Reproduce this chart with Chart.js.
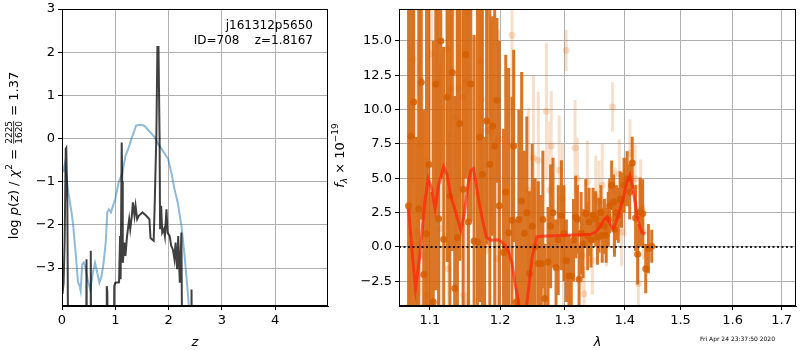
<!DOCTYPE html>
<html>
<head>
<meta charset="utf-8">
<script src="https://cdn.jsdelivr.net/npm/chart.js@4.4.0/dist/chart.umd.min.js"></script>
<style>
  body { margin: 0; background: #fff; }
  #wrap { position: relative; width: 800px; height: 350px; }
  canvas { position: absolute; top: 0; }
</style>
</head>
<body>
<div id="wrap">
  <canvas id="pz" width="330" height="350" style="left:0"></canvas>
  <canvas id="spec" width="470" height="350" style="left:330px"></canvas>
</div>
<script>
// ---- panel 1: p(z) ----
const zTicks = [0, 1, 2, 3, 4];
const lnpTicks = [-3, -2, -1, 0, 1, 2, 3];

// prior / smooth curve (blue)
const blueZ = [0.02, 0.05, 0.08, 0.12, 0.18, 0.21, 0.26, 0.30, 0.33, 0.35, 0.38, 0.41, 0.44, 0.48, 0.53, 0.58, 0.62, 0.66, 0.70, 0.74, 0.78, 0.82, 0.85, 0.88, 0.92, 0.96, 1.00, 1.06, 1.13, 1.19, 1.25, 1.30, 1.36, 1.39, 1.44, 1.50, 1.55, 1.60, 1.66, 1.74, 1.80, 1.89, 1.99, 2.05, 2.11, 2.17, 2.24, 2.30, 2.36, 2.40];
const blueLogp = [-0.78, -0.60, -0.86, -1.25, -1.72, -2.02, -2.71, -3.33, -3.41, -3.53, -2.91, -2.87, -2.99, -3.26, -3.50, -3.10, -2.88, -3.10, -3.34, -3.20, -2.88, -2.41, -1.71, -1.64, -1.71, -1.55, -1.40, -1.02, -0.82, -0.40, -0.22, -0.01, 0.19, 0.30, 0.31, 0.31, 0.29, 0.22, 0.14, 0.03, -0.12, -0.28, -0.47, -0.78, -1.17, -1.48, -2.02, -2.72, -3.57, -4.2];

// fit curve (dark)
const darkZ = [0.0, 0.01, 0.03, 0.05, 0.07, 0.08, 0.10, 0.12, 0.45, 0.46, 0.47, 0.53, 0.54, 0.55, 0.83, 0.84, 0.85, 0.87, 0.97, 0.98, 1.00, 1.07, 1.09, 1.10, 1.12, 1.13, 1.14, 1.17, 1.19, 1.22, 1.26, 1.28, 1.31, 1.33, 1.36, 1.38, 1.41, 1.44, 1.51, 1.58, 1.64, 1.66, 1.68, 1.72, 1.74, 1.77, 1.79, 1.81, 1.83, 1.84, 1.86, 1.88, 1.91, 1.93, 1.96, 1.98, 2.02, 2.05, 2.08, 2.11, 2.13, 2.16, 2.18, 2.21, 2.24, 2.26, 2.42, 2.43, 2.44];
const darkLogp = [-3.42, -3.6, -3.34, -2.37, -0.24, -0.22, -1.48, -6, -6, -2.8, -6, -6, -2.6, -6, -6, -3.42, -3.55, -6, -6, -3.42, -3.34, -3.33, -2.26, -3.26, -0.09, -1.0, -2.88, -2.41, -2.72, -2.26, -1.87, -2.1, -1.79, -1.48, -1.79, -1.56, -1.87, -1.79, -1.71, -1.79, -1.87, -2.3, -2.33, -2.37, -1.48, 0.07, 2.12, 2.12, 0.07, -2.1, -1.56, -2.18, -2.1, -2.26, -1.64, -2.18, -2.26, -2.49, -2.57, -2.8, -2.41, -3.03, -2.26, -3.34, -2.18, -6, -6, -3.5, -6];

// ---- panel 2: spectrum ----
const lamTicks = [1.1, 1.2, 1.3, 1.4, 1.5, 1.6, 1.7];
const fluxTicks = [-2.5, 0, 2.5, 5, 7.5, 10, 12.5, 15];

// grism spectrum, first orient (strong)
const waveA = [1.0714, 1.0746, 1.0782, 1.0816, 1.0850, 1.0884, 1.0918, 1.0955, 1.0986, 1.1021, 1.1047, 1.1081, 1.1119, 1.1150, 1.1190, 1.1239, 1.1276, 1.1310, 1.1343, 1.1382, 1.1414, 1.1462, 1.1500, 1.1539, 1.1572, 1.1619, 1.1667, 1.1700, 1.1739, 1.1772, 1.1800, 1.1847, 1.1890, 1.1919, 1.1953, 1.1986, 1.2050, 1.2083, 1.2126, 1.2177, 1.2202, 1.2242, 1.2280, 1.2323, 1.2364, 1.2402, 1.2444, 1.2485, 1.2530, 1.2580, 1.2626, 1.2651, 1.2682, 1.2732, 1.2773, 1.2811, 1.2859, 1.2894, 1.2944, 1.2985, 1.3025, 1.3066, 1.3104, 1.3140, 1.3176, 1.3203, 1.3231, 1.3264, 1.3296, 1.3341, 1.3371, 1.3395, 1.3428, 1.3461, 1.3506, 1.3535, 1.3560, 1.3593, 1.3615, 1.3651, 1.3681, 1.3717, 1.3742, 1.3775, 1.3807, 1.3824, 1.3857, 1.3889, 1.3922, 1.3944, 1.3988, 1.4041, 1.4086, 1.4130, 1.4189, 1.4225, 1.4268, 1.4314, 1.4368, 1.4416, 1.4475];
const fluxA = [3.0, 8.06, 10.56, -6, 2.79, 12, -2, 0.97, 6, -8, -4.0, 11.85, 2.06, 15, 0.56, 10.9, 3.71, 12.7, -3, 0.68, 9, 4.2, 14, 1.82, 11.87, 0.44, 0.36, 8, 5.27, -5, 9.18, 6.02, 8.81, 7.36, 10.68, 3, -0.41, 4, 1.04, 1.94, 7.36, -4.0, 2, 3.35, 1, 2.5, -1.94, 1.5, 0, -1.21, -1.21, 2, -3.76, -1.09, 1.5, 2.5, -1.5, 0.5, 2.31, 1.0, -1, -2.11, -2.11, 0.5, 2.18, 2.02, -2.35, 1, 0.24, 2.43, 0.8, 1.82, 0.5, 2.31, 2.06, 0.7, 1.58, 2.5, 0.85, 1.5, 0.85, 2, 3, 4.49, 3.28, 1.29, 2.5, 2.31, 3.5, 3.4, 4.5, 4.97, 4, 6.12, 2.11, -0.53, 2.55, 2.43, -1.58, -0.12, 0.05];
const errA = [20, 13, 16, 14, 16, 10, 12, 18, 14, 12, 19, 15, 18, 10, 14, 12, 16, 13, 14, 17, 10, 16, 9, 18, 10, 15, 17, 12, 14, 13, 9, 12, 8, 14, 6, 12, 9, 10, 12, 9, 7, 6, 8, 9.4, 6, 7, 6, 6, 5, 6, 5, 5, 4, 4, 4.5, 4, 3.5, 4, 4, 3.5, 3, 3, 2.5, 3, 3, 2.5, 2.5, 3, 2.5, 2.5, 2.5, 2.5, 2, 2, 2, 2, 2, 2, 2, 2, 2, 2, 2, 1.8, 2, 2, 2, 2, 2, 2, 2, 2, 2, 1.9, 2.4, 2.2, 2.5, 2.5, 1.8, 1.8, 1.2];

// second orient (faint)
const waveB = [1.0728, 1.0773, 1.0827, 1.0864, 1.0901, 1.0955, 1.1024, 1.1096, 1.1143, 1.1229, 1.1257, 1.1286, 1.1357, 1.1404, 1.1453, 1.1472, 1.1500, 1.1514, 1.1533, 1.1715, 1.1729, 1.1810, 1.1867, 1.1953, 1.1976, 1.2177, 1.2192, 1.2429, 1.2505, 1.2580, 1.2707, 1.2758, 1.2783, 1.2909, 1.2959, 1.2977, 1.3021, 1.3165, 1.3203, 1.3285, 1.3313, 1.3368, 1.3450, 1.3506, 1.3560, 1.3615, 1.3687, 1.3725, 1.3791, 1.3812, 1.3835, 1.3906, 1.3944, 1.4000, 1.4089, 1.4179, 1.4238, 1.4279, 1.4296, 1.4327];
const fluxB = [2.79, 13.71, 1.09, 7.41, -0.61, -3.52, 14.08, 12.02, 1.33, 14.4, -1.58, 11.53, 9.47, 11.58, 10.92, -3.52, 12.02, -4.0, 17.1, 13.52, 10.8, 8.5, 8.38, -0.85, 7.84, 15.42, 7.36, 4.13, 6.48, 6.31, 9.88, 4.13, 7.36, 5.58, 3.52, -0.97, 14.32, 7.21, 4.97, -0.61, -3.4, 4.73, -0.97, 3.64, 3.28, 4.49, 1.09, 2.31, 10.2, 2.06, 3.28, 5.34, 1.09, 3.28, 6.8, 4.97, -2.67, 4.37, 2.79, 1.09];
const errB = [12, 9, 14, 11, 13, 10, 8, 9, 12, 7, 10, 9, 10, 8, 9, 9, 8, 8, 6, 7, 8, 9, 8, 9, 8, 6, 7, 6, 6, 5, 5, 5, 4, 4, 4, 4, 1.5, 3.5, 3, 2.5, 2, 3, 2.5, 3, 3, 3, 2.5, 2.5, 1.8, 2.5, 2.5, 2.5, 2.5, 2.5, 2.5, 2.5, 1.8, 2, 2, 2];

// best-fit model (red)
const modelWave = [1.0714, 1.0773, 1.0806, 1.0864, 1.0932, 1.0977, 1.1024, 1.1071, 1.1119, 1.1190, 1.1239, 1.1286, 1.1357, 1.1429, 1.1476, 1.1524, 1.1572, 1.1610, 1.1643, 1.1690, 1.1747, 1.1796, 1.1857, 1.1976, 1.2050, 1.2126, 1.2177, 1.2227, 1.2277, 1.2329, 1.2389, 1.2429, 1.2480, 1.2556, 1.2632, 1.3038, 1.3423, 1.3506, 1.3588, 1.3654, 1.3697, 1.3753, 1.3807, 1.3889, 1.3972, 1.4029, 1.4089, 1.4136, 1.4179, 1.4238, 1.4296, 1.4357];
const modelFlux = [2.79, -1.09, -3.04, -0.61, 3.28, 4.97, 4.25, 2.79, 4.49, 5.83, 5.22, 3.76, 2.55, 1.21, 2.31, 4.25, 5.58, 5.70, 4.73, 3.28, 1.82, 0.73, 0.49, 0.53, 0.24, -0.36, -1.21, -2.79, -4.0, -6.5, -4.6, -3.04, -0.85, 0.73, 0.78, 0.85, 0.92, 1.09, 1.53, 2.06, 2.18, 1.62, 1.33, 2.31, 3.52, 4.61, 5.22, 4.37, 3.28, 1.82, 1.09, 0.97];

const lamMin = 1.0588, lamMax = 1.7304;

const FONT = "'DejaVu Sans', sans-serif";
const ORANGE = 'rgba(213,94,0,0.85)';
const ORANGE_LT = 'rgba(225,110,20,0.22)';

function minus(s) { return String(s).replace('-', '\u2212'); }

// error bars as little vertical segments split by nulls
function errSegments(w, f, e) {
  const pts = [];
  w.forEach((x, i) => {
    pts.push({ x: x, y: f[i] - e[i] }, { x: x, y: f[i] + e[i] }, { x: x, y: null });
  });
  return pts;
}
function xy(xs, ys) { return xs.map((x, i) => ({ x: x, y: ys[i] })); }

// draws a rotated label made of pieces (italic, sub/superscript, fraction)
function drawParts(ctx, parts, x, y) {
  let w = 0;
  parts.forEach(p => {
    ctx.font = p.font;
    p.w = p.frac ? Math.max(ctx.measureText(p.frac[0]).width, ctx.measureText(p.frac[1]).width) + 2
                 : ctx.measureText(p.t).width;
    w += p.w;
  });
  ctx.save();
  ctx.translate(x, y);
  ctx.rotate(-Math.PI / 2);
  ctx.fillStyle = '#000';
  ctx.textBaseline = 'alphabetic';
  let cx = -w / 2;
  parts.forEach(p => {
    ctx.font = p.font;
    if (p.frac) {
      ctx.textAlign = 'center';
      ctx.fillText(p.frac[0], cx + p.w / 2, -1);
      ctx.fillText(p.frac[1], cx + p.w / 2, 9);
      ctx.fillRect(cx + 1, 0.3, p.w - 2, 0.8);
    } else {
      ctx.textAlign = 'left';
      ctx.fillText(p.t, cx, 5 + (p.dy || 0));
    }
    cx += p.w;
  });
  ctx.restore();
}

const frame = {
  id: 'frame',
  afterDraw(chart) {
    const a = chart.chartArea, ctx = chart.ctx;
    ctx.save();
    ctx.strokeStyle = '#000';
    ctx.lineWidth = 1;
    ctx.strokeRect(Math.round(a.left) + 0.5, Math.round(a.top) + 0.5, Math.round(a.right - a.left) - 1, Math.round(a.bottom - a.top) - 1);
    ctx.restore();
  }
};

const up = s => s + 'px ' + FONT;
const it = s => 'italic ' + s + 'px ' + FONT;

const pzText = {
  id: 'pzText',
  afterDraw(chart) {
    const ctx = chart.ctx;
    ctx.save();
    ctx.fillStyle = '#000';
    ctx.font = up(12);
    ctx.textAlign = 'right';
    ctx.fillText('j161312p5650', 313, 29);
    ctx.fillText('ID=708    z=1.8167', 313, 44);
    ctx.restore();
    drawParts(ctx, [
      { t: 'log ', font: up(13) },
      { t: 'p', font: it(13) },
      { t: '(', font: up(13) },
      { t: 'z', font: it(13) },
      { t: ') / ', font: up(13) },
      { t: '\u03c7', font: it(13) },
      { t: '2', font: up(9), dy: -6 },
      { t: ' = ', font: up(13) },
      { frac: ['2225', '1620'], font: up(9) },
      { t: ' = 1.37', font: up(13) }
    ], 13, 155.5);
  }
};

const specText = {
  id: 'specText',
  afterDraw(chart) {
    const ctx = chart.ctx;
    drawParts(ctx, [
      { t: 'f', font: it(13) },
      { t: '\u03bb', font: it(9), dy: 3 },
      { t: ' \u00d7 10', font: up(13) },
      { t: '\u221219', font: up(9), dy: -6 }
    ], 9, 155.5);
    ctx.save();
    ctx.fillStyle = '#000';
    ctx.font = up(6);
    ctx.textAlign = 'left';
    ctx.textBaseline = 'middle';
    ctx.fillText('Fri Apr 24 23:37:50 2020', 370, 339.5);
    ctx.restore();
  }
};

function fixAxis(w, h) {
  return function (scale) {
    if (w) scale.width = w;
    if (h) scale.height = h;
    scale.paddingTop = 0; scale.paddingBottom = 0;
    scale.paddingLeft = 0; scale.paddingRight = 0;
  };
}

const tickFont = { family: FONT, size: 13 };
const gridOpts = { color: '#b0b0b0', lineWidth: 1, tickColor: '#000', tickLength: 4 };

new Chart(document.getElementById('pz'), {
  type: 'scatter',
  data: {
    datasets: [
      { data: xy(darkZ, darkLogp), showLine: true, borderColor: 'rgba(0,0,0,0.75)', borderWidth: 2, pointRadius: 0, clip: 0 },
      { data: xy(blueZ, blueLogp), showLine: true, borderColor: 'rgba(31,119,180,0.5)', borderWidth: 2, pointRadius: 0, clip: 0 }
    ]
  },
  options: {
    responsive: false,
    animation: false,
    layout: { padding: { top: 9, right: 2, left: 0, bottom: 0 } },
    plugins: { legend: { display: false }, tooltip: { enabled: false } },
    scales: {
      x: {
        type: 'linear', min: 0, max: 4.99,
        grid: gridOpts,
        border: { color: '#000' },
        afterBuildTicks: s => { s.ticks = zTicks.map(v => ({ value: v })); },
        afterFit: fixAxis(0, 44),
        ticks: { font: tickFont, color: '#000', padding: 3, maxRotation: 0, autoSkip: false, callback: v => minus(v) },
        title: { display: true, text: 'z', color: '#000', font: { family: FONT, size: 13, style: 'italic' }, padding: { top: 0, bottom: 0 } }
      },
      y: {
        type: 'linear', min: -3.88, max: 3,
        grid: gridOpts,
        border: { color: '#000' },
        afterBuildTicks: s => { s.ticks = lnpTicks.map(v => ({ value: v })); },
        afterFit: fixAxis(62, 0),
        ticks: { font: tickFont, color: '#000', padding: 3, autoSkip: false, callback: v => minus(v) }
      }
    }
  },
  plugins: [frame, pzText]
});

new Chart(document.getElementById('spec'), {
  type: 'scatter',
  data: {
    datasets: [
      { data: [{ x: lamMin, y: 0 }, { x: lamMax, y: 0 }], showLine: true, borderColor: 'rgba(0,0,0,0.85)', borderWidth: 2, borderDash: [2, 2.5], pointRadius: 0, clip: 0 },
      { data: xy(modelWave, modelFlux), showLine: true, borderColor: 'rgba(255,35,10,0.7)', borderWidth: 3, pointRadius: 0, clip: 0 },
      { data: xy(waveA, fluxA), pointRadius: 3.5, pointBackgroundColor: ORANGE, pointBorderWidth: 0, clip: 0 },
      { data: errSegments(waveA, fluxA, errA), showLine: true, spanGaps: false, borderColor: ORANGE, borderWidth: 3, borderCapStyle: 'butt', pointRadius: 0, clip: 0 },
      { data: xy(waveB, fluxB), pointRadius: 3.5, pointBackgroundColor: ORANGE_LT, pointBorderWidth: 0, clip: 0 },
      { data: errSegments(waveB, fluxB, errB), showLine: true, spanGaps: false, borderColor: ORANGE_LT, borderWidth: 3, borderCapStyle: 'butt', pointRadius: 0, clip: 0 }
    ]
  },
  options: {
    responsive: false,
    animation: false,
    layout: { padding: { top: 9, right: 2, left: 0, bottom: 0 } },
    plugins: { legend: { display: false }, tooltip: { enabled: false } },
    scales: {
      x: {
        type: 'logarithmic', min: lamMin, max: lamMax, z: 1,
        grid: gridOpts,
        border: { color: '#000' },
        afterBuildTicks: s => { s.ticks = lamTicks.map(v => ({ value: v })); },
        afterFit: fixAxis(0, 44),
        ticks: { font: tickFont, color: '#000', padding: 3, maxRotation: 0, autoSkip: false, callback: v => Number(v).toFixed(1) },
        title: { display: true, text: '\u03bb', color: '#000', font: { family: FONT, size: 13, style: 'italic' }, padding: { top: 0, bottom: 0 } }
      },
      y: {
        type: 'linear', min: -4.3, max: 17.33, z: 1,
        grid: gridOpts,
        border: { color: '#000' },
        afterBuildTicks: s => { s.ticks = fluxTicks.map(v => ({ value: v })); },
        afterFit: fixAxis(69, 0),
        ticks: { font: tickFont, color: '#000', padding: 3, autoSkip: false, callback: v => minus(Number(v).toFixed(1)) }
      }
    }
  },
  plugins: [frame, specText]
});
</script>
</body>
</html>
